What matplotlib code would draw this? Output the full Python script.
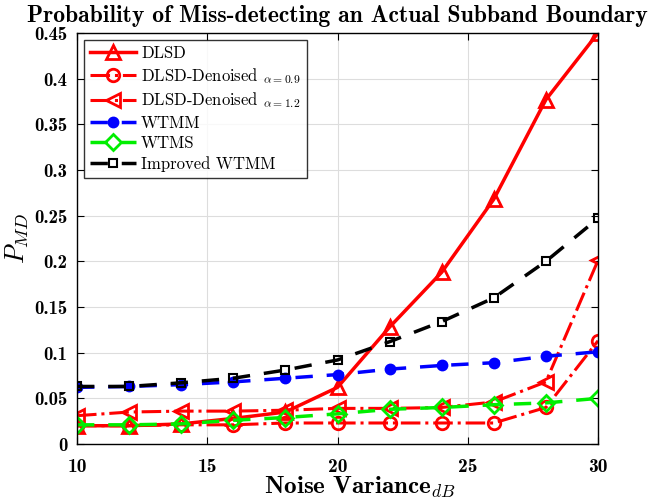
import matplotlib
matplotlib.use("Agg")
import matplotlib.pyplot as plt

noise_db = [10, 12, 14, 16, 18, 20, 22, 24, 26, 28, 30]
dlsd = [0.020, 0.020, 0.022, 0.028, 0.035, 0.062, 0.128, 0.188, 0.268, 0.377, 0.450]
dlsd_den_09 = [0.020, 0.020, 0.021, 0.021, 0.023, 0.023, 0.023, 0.023, 0.023, 0.040, 0.113]
dlsd_den_12 = [0.031, 0.035, 0.036, 0.036, 0.037, 0.039, 0.039, 0.040, 0.046, 0.068, 0.201]
wtmm = [0.062, 0.063, 0.065, 0.068, 0.072, 0.076, 0.082, 0.086, 0.089, 0.096, 0.101]
wtms = [0.021, 0.021, 0.022, 0.026, 0.029, 0.033, 0.038, 0.040, 0.043, 0.045, 0.050]
imp_wtmm = [0.063, 0.063, 0.067, 0.072, 0.081, 0.092, 0.112, 0.134, 0.160, 0.200, 0.247]

plt.rcParams['font.family'] = ['cmr10', 'DejaVu Serif']
plt.rcParams['mathtext.fontset'] = 'cm'
plt.rcParams['axes.formatter.use_mathtext'] = True
BOLD = ['cmb10', 'DejaVu Serif']

fig = plt.figure(figsize=(6.55, 4.99), dpi=100)
L, R, T, B = 77, 598, 33, 444
ax = fig.add_axes([L/655, 1-B/499, (R-L)/655, (B-T)/499])

ax.plot(noise_db, dlsd, '-', color='red', lw=2.5, marker='^', ms=10, mfc='none', mew=2, label='DLSD')
ax.plot(noise_db, dlsd_den_09, '-.', color='red', lw=2.2, marker='o', ms=9, mfc='none', mew=2,
        label=r'DLSD-Denoised $_{\alpha=0.9}$')
ax.plot(noise_db, dlsd_den_12, '-.', color='red', lw=2.2, marker='<', ms=10, mfc='none', mew=2,
        label=r'DLSD-Denoised $_{\alpha=1.2}$')
ax.plot(noise_db, wtmm, '--', color='blue', lw=2.5, marker='o', ms=7, mfc='blue', mew=1.5,
        dashes=(5, 4), label='WTMM')
ax.plot(noise_db, wtms, '--', color='#00ee00', lw=2.5, marker='D', ms=8, mfc='none', mew=2,
        dashes=(5, 4), label='WTMS')
ax.plot(noise_db, imp_wtmm, '--', color='black', lw=2.5, marker='s', ms=6, mfc='none', mew=1.5,
        dashes=(5, 4), label='Improved WTMM')

ax.set_xlim(10, 30)
ax.set_ylim(0, 0.45)
xt = [10, 15, 20, 25, 30]
yt = [0, 0.05, 0.1, 0.15, 0.2, 0.25, 0.3, 0.35, 0.4, 0.45]
ax.set_xticks(xt)
ax.set_yticks(yt)
ax.set_xticklabels([str(v) for v in xt], family=BOLD, fontsize=14)
ax.set_yticklabels(['0', '0.05', '0.1', '0.15', '0.2', '0.25', '0.3', '0.35', '0.4', '0.45'],
                   family=BOLD, fontsize=13.5)
ax.tick_params(direction='in', length=5, top=True, right=True)
ax.tick_params(axis='x', pad=10)
ax.tick_params(axis='y', pad=7)
ax.grid(True, color='#dddddd', lw=0.8)
for s in ax.spines.values():
    s.set_linewidth(1.0)

ax.set_title('Probability of Miss-detecting an Actual Subband Boundary', family=BOLD, fontsize=17, pad=8)
ax.set_xlabel(r'Noise Variance$_{dB}$', family=BOLD, fontsize=18)
ax.xaxis.set_label_coords(360/655, 1-475/499, transform=fig.transFigure)
ax.set_ylabel(r'$P_{MD}$', fontsize=19)
ax.yaxis.set_label_coords(31/655, 1-238/499, transform=fig.transFigure)

leg = ax.legend(loc='upper left', prop={'family': ['cmr10', 'DejaVu Serif'], 'size': 12},
                frameon=True, fancybox=False, edgecolor='black',
                borderaxespad=0.4, handlelength=2.8, labelspacing=0.3, borderpad=0.35, handletextpad=0.3)
leg.get_frame().set_linewidth(1.0)

fig.savefig('out.png', dpi=100)
